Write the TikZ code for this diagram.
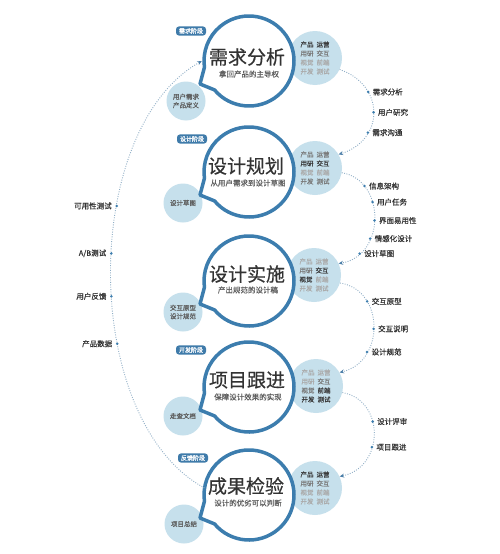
\documentclass[tikz,border=0pt]{standalone}
\usepackage{fontspec}
\newfontfamily\cjk{Noto Sans CJK SC}
\newfontfamily\cjkb[FakeBold=0.6]{Noto Sans CJK SC}
\newfontfamily\cjkt[FakeBold=0.4]{Noto Sans CJK SC}
\usetikzlibrary{arrows.meta,calc}
\definecolor{mainblue}{HTML}{3C7DAE}
\definecolor{lightblue}{HTML}{C6E0EC}
\definecolor{tagblue}{HTML}{3F7BAA}
\definecolor{dotline}{HTML}{8FAEC6}
\definecolor{arrowblue}{HTML}{4A7EA8}
\definecolor{txtdark}{HTML}{333333}
\definecolor{txtsub}{HTML}{5E5E5E}
\definecolor{rD}{HTML}{3A3A3A}
\definecolor{rM}{HTML}{7A7A7A}
\definecolor{rL}{HTML}{ABABAB}
\newcommand\rolew[2]{{\color{#1}#2}}
\newcommand\rolegap{\hspace{3pt}}
\begin{document}
\begin{tikzpicture}[x=1pt,y=-1pt,
  rolecirc/.style={circle, fill=lightblue, minimum size=54pt, inner sep=0pt, align=center,
    font=\cjkb\fontsize{6.5}{9}\selectfont},
  sidecirc/.style={circle, fill=lightblue, minimum size=39pt, inner sep=0pt, align=center,
    font=\cjkb\fontsize{6.5}{8.5}\selectfont, text=txtsub},
  mainc/.style={circle, minimum size=90pt, inner sep=0pt},
  bubble/.style={draw=mainblue, line width=3.5pt, fill=white, line join=round},
  title/.style={font=\cjkt\fontsize{19}{19}\selectfont, text=txtdark, inner sep=0pt},
  subt/.style={font=\cjkb\fontsize{7.5}{7.5}\selectfont, text=txtsub, fill=white, inner sep=0.8pt},
  tagbox/.style={rounded corners=3pt, fill=tagblue, text=white, font=\cjkb\fontsize{6}{6}\selectfont,
    inner xsep=3pt, inner ysep=1.8pt},
  flow/.style={draw=dotline, line width=0.9pt, dash pattern=on 0.9pt off 1.5pt,
    -{Stealth[length=4.5pt,width=4pt,color=arrowblue]}},
  dotmark/.style={circle, fill=mainblue, inner sep=0pt, minimum size=2.8pt},
  lab/.style={font=\cjkb\fontsize{7.5}{7.5}\selectfont, text=txtdark, inner sep=0pt}
]
\useasboundingbox (0,0) rectangle (500,554);
\fill[white] (0,0) rectangle (500,554);

% role circles (right)
\node[rolecirc] (r1) at (315,58) {\rolew{rD}{产品}\rolegap\rolew{rD}{运营}\\\rolew{rM}{用研}\rolegap\rolew{rM}{交互}\\\rolew{rL}{视觉}\rolegap\rolew{rL}{前端}\\\rolew{rL}{开发}\rolegap\rolew{rL}{测试}};
\node[rolecirc] (r2) at (315,168) {\rolew{rM}{产品}\rolegap\rolew{rM}{运营}\\\rolew{rD}{用研}\rolegap\rolew{rD}{交互}\\\rolew{rL}{视觉}\rolegap\rolew{rL}{前端}\\\rolew{rM}{开发}\rolegap\rolew{rM}{测试}};
\node[rolecirc] (r3) at (314,275) {\rolew{rL}{产品}\rolegap\rolew{rL}{运营}\\\rolew{rM}{用研}\rolegap\rolew{rD}{交互}\\\rolew{rD}{视觉}\rolegap\rolew{rL}{前端}\\\rolew{rL}{开发}\rolegap\rolew{rL}{测试}};
\node[rolecirc] (r4) at (316,386) {\rolew{rL}{产品}\rolegap\rolew{rL}{运营}\\\rolew{rL}{用研}\rolegap\rolew{rM}{交互}\\\rolew{rM}{视觉}\rolegap\rolew{rD}{前端}\\\rolew{rD}{开发}\rolegap\rolew{rD}{测试}};
\node[rolecirc] (r5) at (315,488) {\rolew{rD}{产品}\rolegap\rolew{rD}{运营}\\\rolew{rM}{用研}\rolegap\rolew{rM}{交互}\\\rolew{rL}{视觉}\rolegap\rolew{rL}{前端}\\\rolew{rL}{开发}\rolegap\rolew{rL}{测试}};

% side circles (left)
\node[sidecirc] (s1) at (186,101) {用户需求\\产品定义};
\node[sidecirc] (s2) at (183,203) {设计草图};
\node[sidecirc] (s3) at (183,312) {交互原型\\设计规范};
\node[sidecirc] (s4) at (183,416) {走查文档};
\node[sidecirc] (s5) at (184,524) {项目总结};

% main circles
\node[mainc] (c1) at (249,61) {};
\node[mainc] (c2) at (249,172) {};
\node[mainc] (c3) at (249,281) {};
\node[mainc] (c4) at (249,387) {};
\node[mainc] (c5) at (249,495) {};
\foreach \c in {c1,c2,c3,c4,c5}{
  \draw[bubble] ([shift={(172:45)}]\c.center) -- ([shift={(-49,23)}]\c.center)
    -- ([shift={(140:45)}]\c.center) arc[start angle=140, end angle=-188, radius=45] -- cycle;
}

\node[title] (h1) at (247,57) {需求分析};
\node[subt] (u1) at (249,74) {拿回产品的主导权};
\node[title] (h2) at (246,166) {设计规划};
\node[subt] (u2) at (248,183) {从用户需求到设计草图};
\node[title] (h3) at (247,274) {设计实施};
\node[subt] (u3) at (248,290) {产出规范的设计稿};
\node[title] (h4) at (247,380) {项目跟进};
\node[subt] (u4) at (248,397) {保障设计效果的实现};
\node[title] (h5) at (246,486) {成果检验};
\node[subt] (u5) at (248,503) {设计的优劣可以判断};

% phase tags
\node[tagbox] (t1) at (191,31) {需求阶段};
\node[tagbox] (t2) at (192,139) {设计阶段};
\node[tagbox] (t4) at (191,350) {开发阶段};
\node[tagbox] (t5) at (193,458) {反馈阶段};

% right flows
\draw[flow] (r1.-25) .. controls (385,85) and (385,140) .. (r2.30)
  node[pos=0.3,dotmark] (a1){} node[pos=0.5,dotmark] (a2){} node[pos=0.7,dotmark] (a3){};
\node[lab,anchor=west] at ([xshift=2.5pt]a1.east) {需求分析};
\node[lab,anchor=west] at ([xshift=2.5pt]a2.east) {用户研究};
\node[lab,anchor=west] at ([xshift=2.5pt]a3.east) {需求沟通};

\draw[flow] (r2.-10) .. controls (386,180) and (386,256) .. (r3.25)
  node[pos=0.22,dotmark] (b1){} node[pos=0.37,dotmark] (b2){} node[pos=0.52,dotmark] (b3){}
  node[pos=0.67,dotmark] (b4){} node[pos=0.82,dotmark] (b5){};
\node[lab,anchor=west] at ([xshift=2.5pt]b1.east) {信息架构};
\node[lab,anchor=west] at ([xshift=2.5pt]b2.east) {用户任务};
\node[lab,anchor=west] at ([xshift=2.5pt]b3.east) {界面易用性};
\node[lab,anchor=west] at ([xshift=2.5pt]b4.east) {情感化设计};
\node[lab,anchor=west] at ([xshift=2.5pt]b5.east) {设计草图};

\draw[flow] (r3.-17) .. controls (385,290) and (385,362) .. (r4.30)
  node[pos=0.28,dotmark] (e1){} node[pos=0.52,dotmark] (e2){} node[pos=0.72,dotmark] (e3){};
\node[lab,anchor=west] at ([xshift=2.5pt]e1.east) {交互原型};
\node[lab,anchor=west] at ([xshift=2.5pt]e2.east) {交互说明};
\node[lab,anchor=west] at ([xshift=2.5pt]e3.east) {设计规范};

\draw[flow] (r4.-14) .. controls (385,400) and (385,467) .. (r5.25)
  node[pos=0.39,dotmark] (f1){} node[pos=0.62,dotmark] (f2){};
\node[lab,anchor=west] at ([xshift=2.5pt]f1.east) {设计评审};
\node[lab,anchor=west] at ([xshift=2.5pt]f2.east) {项目跟进};

% left feedback loop
\draw[flow] (c5.171) .. controls (80,420) and (80,130) .. ([xshift=-2pt]c1.west)
  node[pos=0.37,dotmark] (g4){} node[pos=0.46,dotmark] (g3){}
  node[pos=0.54,dotmark] (g2){} node[pos=0.63,dotmark] (g1){};
\node[lab,anchor=east] at ([xshift=-3pt]g1.west) {可用性测试};
\node[lab,anchor=east] at ([xshift=-3pt]g2.west) {A/B测试};
\node[lab,anchor=east] at ([xshift=-3pt]g3.west) {用户反馈};
\node[lab,anchor=east] at ([xshift=-3pt]g4.west) {产品数据};
\end{tikzpicture}
\end{document}
